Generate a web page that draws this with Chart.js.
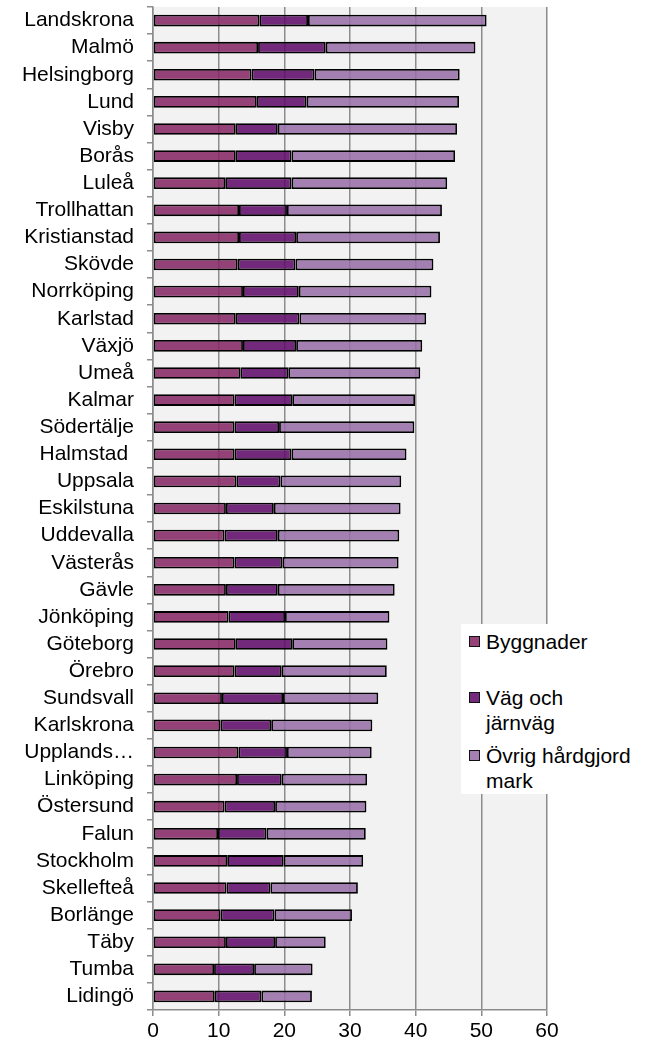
<!DOCTYPE html>
<html>
<head>
<meta charset="utf-8">
<script src="https://cdn.jsdelivr.net/npm/chart.js"></script>
<style>
  body { margin: 0; background: #fff; font-family: "Liberation Sans", Arial, sans-serif; }
  #wrap { position: relative; width: 652px; height: 1044px; }
  #legend { position: absolute; left: 461px; top: 624px; width: 186px; height: 170px; background: #fff; }
  .item { position: absolute; left: 8px; width: 175px; font-size: 21px; line-height: 25px; color: #000; }
  .item .box { position: absolute; left: 0; top: 7px; width: 9px; height: 9px; border: 1px solid #111; }
  .item .txt { position: absolute; left: 17px; width: 148px; }
</style>
</head>
<body>
<div id="wrap">
  <canvas id="myBarChart"></canvas>
  <div id="legend"></div>
</div>
<script>
// ############################################ Data #############################################
const cities = [
    'Landskrona', 'Malmö', 'Helsingborg', 'Lund', 'Visby', 'Borås', 'Luleå',
    'Trollhattan', 'Kristianstad', 'Skövde', 'Norrköping', 'Karlstad', 'Växjö', 'Umeå',
    'Kalmar', 'Södertälje', 'Halmstad ', 'Uppsala', 'Eskilstuna', 'Uddevalla', 'Västerås',
    'Gävle', 'Jönköping', 'Göteborg', 'Örebro', 'Sundsvall', 'Karlskrona', 'Upplands Väsby',
    'Linköping', 'Östersund', 'Falun', 'Stockholm', 'Skellefteå', 'Borlänge', 'Täby',
    'Tumba', 'Lidingö'
];

const byggnader = [
    16.2, 16.0, 15.0, 15.8, 12.6, 12.6, 11.0,
    13.1, 13.1, 12.9, 13.7, 12.6, 13.7, 13.3,
    12.4, 12.4, 12.4, 12.7, 11.1, 10.9, 12.4,
    11.1, 11.5, 12.6, 12.4, 10.5, 10.3, 13.0,
    12.8, 10.9, 9.9, 11.3, 11.2, 10.3, 11.1,
    9.3, 9.4
];

const vagJarnvag = [
    7.4, 10.3, 9.6, 7.6, 6.4, 8.5, 10.1,
    7.3, 8.7, 8.8, 8.5, 9.7, 8.1, 7.3,
    8.8, 6.8, 8.7, 6.7, 7.3, 8.1, 7.3,
    7.9, 8.6, 8.6, 7.2, 9.3, 7.7, 7.4,
    6.8, 7.7, 7.4, 8.6, 6.7, 8.2, 7.5,
    6.1, 7.1
];

const ovrigMark = [
    27.2, 22.8, 22.1, 23.2, 27.3, 24.9, 23.7,
    23.6, 21.9, 21.0, 20.2, 19.3, 19.2, 20.1,
    18.7, 20.6, 17.5, 18.4, 19.3, 18.5, 17.7,
    17.8, 15.9, 14.5, 16.0, 14.5, 15.4, 12.9,
    13.0, 13.9, 15.1, 12.1, 13.3, 11.8, 7.7,
    8.9, 7.7
];

const xTicks = [0, 10, 20, 30, 40, 50, 60];

// ############################################ Bar Chart #############################################
const font = { family: '"Liberation Sans", Arial, sans-serif', size: 21 };
const gridColor = '#8c8c8c';

const plotBackground = {
    id: 'plotBackground',
    beforeDraw(chart) {
        const { ctx, chartArea } = chart;
        ctx.save();
        ctx.fillStyle = '#f2f2f2';
        ctx.fillRect(chartArea.left, chartArea.top, chartArea.width, chartArea.height);
        ctx.restore();
    }
};

function makeSet(label, data, color) {
    return {
        label: label,
        data: data,
        backgroundColor: color,
        borderColor: '#000',
        borderWidth: 1.8,
        borderSkipped: false,
        categoryPercentage: 1.0,
        barPercentage: 0.43
    };
}

const ctx = document.getElementById('myBarChart').getContext('2d');
const chart = new Chart(ctx, {
    type: 'bar',
    data: {
        labels: cities,
        datasets: [
            makeSet('Byggnader', byggnader, 'rgba(134, 40, 102, 0.88)'),
            makeSet('Väg och järnväg', vagJarnvag, 'rgba(96, 12, 106, 0.88)'),
            makeSet('Övrig hårdgjord mark', ovrigMark, 'rgba(152, 110, 168, 0.88)')
        ]
    },
    options: {
        indexAxis: 'y',
        responsive: true,
        maintainAspectRatio: false,
        animation: false,
        layout: { padding: { top: 7, right: 105, left: 0, bottom: 0 } },
        plugins: {
            legend: { display: false },
            tooltip: { enabled: false }
        },
        scales: {
            x: {
                stacked: true,
                min: 0,
                max: 60,
                afterBuildTicks: axis => { axis.ticks = xTicks.map(v => ({ value: v })); },
                afterFit: axis => { axis.height = 34; axis.paddingLeft = 0; axis.paddingRight = 0; },
                grid: { color: gridColor, lineWidth: 1.5, tickLength: 6, tickColor: gridColor },
                border: { color: gridColor, width: 1.5 },
                ticks: { color: '#000', font: font, padding: 3, maxRotation: 0 }
            },
            y: {
                stacked: true,
                afterFit: axis => { axis.width = 153; axis.paddingTop = 0; axis.paddingBottom = 0; },
                grid: { drawOnChartArea: false, offset: true, tickLength: 6, tickColor: gridColor, lineWidth: 1.5 },
                border: { color: gridColor, width: 1.5 },
                ticks: {
                    color: '#000',
                    font: font,
                    padding: 13,
                    autoSkip: false,
                    callback: function (value) {
                        const name = this.getLabelForValue(value);
                        return name.length > 12 ? name.split(' ')[0] + '…' : name;
                    }
                }
            }
        }
    },
    plugins: [plotBackground]
});

// legend sitting on top of the plot, like the original
const legend = document.getElementById('legend');
const legendTops = [5, 61, 119];
chart.data.datasets.forEach((ds, i) => {
    const item = document.createElement('div');
    item.className = 'item';
    item.style.top = legendTops[i] + 'px';
    item.innerHTML = '<span class="box" style="background:' + ds.backgroundColor + '"></span>' +
        '<span class="txt">' + ds.label + '</span>';
    legend.appendChild(item);
});
</script>
</body>
</html>
